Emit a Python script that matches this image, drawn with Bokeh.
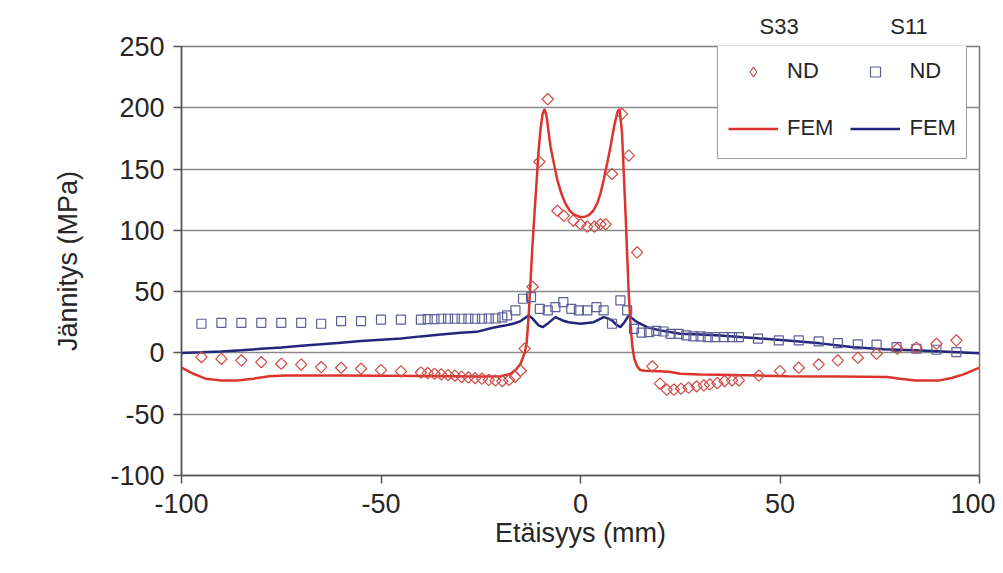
import math
from bokeh.plotting import figure
from bokeh.models import FixedTicker, Legend, LegendItem, Title
from bokeh.embed import file_html
from bokeh.resources import INLINE

# ---- axis ticks ----
x_ticks = [-100, -50, 0, 50, 100]
x_tick_labels = ["-100", "-50", "0", "50", "100"]
y_ticks = [-100, -50, 0, 50, 100, 150, 200, 250]
y_tick_labels = ["-100", "-50", "0", "50", "100", "150", "200", "250"]

# ---- legend headers ----
header_left = "S33"
header_right = "S11"

# ---- S33 measured (ND) ----
s33_nd_x = [-95, -90, -85, -80, -75, -70, -65, -60, -55, -50, -45, -40,
            -38.3, -36.6, -34.9, -33.2, -31.5, -29.8, -28.1, -26.4, -24.7, -23.0,
            -21.3, -19.6, -17.9, -16.4, -15.0, -14.0, -12.0, -10.3, -8.2, -5.8,
            -4.2, -1.8, 0.0, 1.7, 3.5, 5.0, 6.3, 7.9, 10.4, 12.1, 14.2, 18.0,
            19.9, 21.6, 23.4, 25.2, 27.1, 29.1, 30.9, 32.4, 34.3, 36.1, 38.0,
            39.7, 44.7, 50.0, 54.7, 59.7, 64.5, 69.5, 74.2, 79.4, 84.2, 89.2, 94.2]
s33_nd_y = [-3.4, -4.8, -6.1, -7.5, -8.8, -9.5, -11.6, -12.1, -12.9, -14.0, -15.0, -16.0,
            -16.5, -17.0, -17.5, -18.0, -18.5, -19.5, -20.0, -20.5, -21.0, -22.0,
            -22.5, -23.0, -22.0, -19.5, -14.5, 3.5, 54, 156, 207, 116,
            112, 108, 105, 103, 103, 105, 105, 146, 195, 161, 82, -11,
            -25, -30, -30, -29.2, -28.4, -27.3, -26.5, -25.7, -24.6, -23.0, -22.4,
            -22.4, -18.4, -14.8, -12.1, -9.4, -6.1, -3.9, -0.7, 3.4, 4.2, 7.5, 10.2]

# ---- S11 measured (ND) ----
s11_nd_x = [-95, -90, -85, -80, -75, -70, -65, -60, -55, -50, -45, -40,
            -38.3, -36.6, -34.9, -33.2, -31.5, -29.8, -28.1, -26.4, -24.7, -23.0,
            -21.3, -19.6, -18.4, -16.3, -14.4, -12.4, -10.2, -8.2, -6.3, -4.3,
            -2.3, -0.4, 1.7, 4.0, 5.8, 7.9, 10.0, 11.7, 13.4, 15.3, 17.2, 19.0,
            20.8, 22.6, 24.6, 26.5, 28.3, 30.1, 31.9, 33.8, 35.9, 38.0, 39.7,
            44.5, 49.7, 54.7, 59.7, 64.5, 69.5, 74.2, 79.2, 84.2, 89.2, 94.2]
s11_nd_y = [23.8, 24.6, 24.6, 24.6, 24.6, 24.6, 23.8, 26.0, 26.0, 27.1, 27.1, 27.1,
            27.5, 27.5, 27.9, 27.9, 27.9, 27.9, 27.9, 27.9, 27.9, 28.1,
            28.1, 29.0, 30.6, 34.7, 44.2, 45.5, 36.0, 34.7, 37.4, 41.4,
            36.0, 34.7, 34.7, 37.4, 34.7, 23.8, 42.8, 34.7, 19.7, 16.5, 17.0, 18.0,
            17.5, 15.6, 15.6, 14.3, 13.5, 13.5, 12.9, 12.9, 12.9, 12.9, 12.9,
            11.6, 10.2, 10.2, 9.4, 8.0, 6.9, 6.7, 4.7, 3.4, 2.6, 0.7]

# ---- S33 FEM ----
s33_fem_x = [-100, -97, -94, -90, -86, -82, -78, -74, -60, -40, -25, -20, -17.5, -16,
             -15, -14, -13.5, -13, -12.5, -12, -11.5, -11, -10.5, -10, -9.5, -9.0,
             -8.5, -7.5, -6.5, -5.8, -4.8, -3.8, -2.7, -1.7, 0, 1, 2.1, 3.2, 4.2,
             5, 5.8, 6.7, 7.5, 8.5, 9.3, 9.8, 10.4, 10.8, 11.3, 11.7, 12.1, 12.5,
             13, 13.5, 14.2, 15, 16, 20, 22.6, 25, 30, 35, 45, 52, 65, 77, 80, 84,
             90, 93, 96, 100]
s33_fem_y = [-12, -17, -21, -22.5, -22.5, -21, -19, -18.5, -18.5, -18.8, -19.2, -19, -17, -13,
             -8.6, 0, 8, 30, 60, 90, 115, 140, 165, 183, 195, 199,
             193, 168, 152, 141, 130, 122, 116, 113, 110.8, 111, 112.5, 116, 122,
             130, 141, 155, 168, 186, 197, 199, 180, 150, 113, 80, 48, 25,
             5, -5, -11, -14, -14.5, -15, -15.6, -17, -17.5, -17.8, -18.5, -19, -19.2, -19.7, -21, -22.4,
             -22.4, -20.5, -17.5, -12]

# ---- S11 FEM ----
s11_fem_x = [-100, -95, -90, -85, -80, -75, -70, -65, -60, -55, -50, -45, -40, -35, -30,
             -26, -22, -19, -16.7, -15, -13, -12, -10.5, -9.5, -8, -6.3, -4.5, -3, 0,
             3.3, 5.8, 7, 7.9, 9, 10, 11, 12.1, 13, 14.2, 16.7, 20, 25, 30, 35, 45,
             51.8, 60, 68.5, 76, 85.2, 92, 100]
s11_fem_y = [0, 0.5, 1.2, 2.2, 3.4, 4.5, 5.8, 7.1, 8.4, 9.7, 10.8, 11.8, 13.5, 15, 16.5,
             17.2, 20.5, 22.3, 24, 26, 30.5, 28, 22.5, 21, 24.5, 29.2, 26.5, 25, 23.8,
             25.1, 29.2, 28, 26.5, 23, 21, 25, 30.6, 28, 25.1, 21, 18.4, 15.6, 15, 14.3, 11.8,
             10.2, 7.8, 4.7, 3, 2, 1, -0.2]

FONT = "Liberation Sans"
TXT = "#262626"
RED_LINE = "#dc342c"
RED_PT = "#cf4a44"
BLUE_LINE = "#23267a"
BLUE_PT = "#5b5f98"

p = figure(width=995, height=565, x_range=(-100, 100), y_range=(-100, 250),
           output_backend="svg", toolbar_location=None,
           min_border_left=181, min_border_right=16, min_border_top=46, min_border_bottom=90,
           x_axis_label="Etäisyys (mm)", y_axis_label="Jännitys (MPa)")
p.background_fill_color = "white"
p.border_fill_color = "white"
p.outline_line_color = "#7a7a7a"
p.outline_line_width = 1.5

p.xaxis.ticker = FixedTicker(ticks=x_ticks)
p.yaxis.ticker = FixedTicker(ticks=y_ticks)
p.xaxis.major_label_overrides = dict(zip(x_ticks, x_tick_labels))
p.yaxis.major_label_overrides = dict(zip(y_ticks, y_tick_labels))

for ax in (p.xaxis, p.yaxis):
    ax.axis_line_color = "#555555"
    ax.axis_line_width = 1.5
    ax.major_tick_line_color = "#555555"
    ax.major_tick_line_width = 1.5
    ax.major_tick_in = 0
    ax.major_tick_out = 8
    ax.minor_tick_line_color = None
    ax.major_label_text_font = FONT
    ax.major_label_text_font_size = "27px"
    ax.major_label_text_color = TXT
    ax.axis_label_text_font = FONT
    ax.axis_label_text_font_size = "27px"
    ax.axis_label_text_font_style = "normal"
    ax.axis_label_text_color = TXT

p.xaxis.major_label_standoff = 10
p.xaxis.axis_label_standoff = 2
p.yaxis.major_label_standoff = 9
p.yaxis.axis_label_standoff = 24

p.xgrid.grid_line_color = None
p.ygrid.grid_line_color = "#8a8a8a"
p.ygrid.grid_line_width = 1.5

r_s11_fem = p.line(s11_fem_x, s11_fem_y, line_color=BLUE_LINE, line_width=2.5)
r_s33_fem = p.line(s33_fem_x, s33_fem_y, line_color=RED_LINE, line_width=2.5)
r_s11_nd = p.scatter(s11_nd_x, s11_nd_y, marker="square", size=9,
                     line_color=BLUE_PT, fill_color=None, line_width=1.2)
r_s33_nd = p.scatter(s33_nd_x, s33_nd_y, marker="square", angle=math.pi / 4, size=8,
                     line_color=RED_PT, fill_color=None, line_width=1.2)
# hidden renderer used only to draw a diamond key in the legend
r_s33_key = p.scatter(s33_nd_x, s33_nd_y, marker="diamond", size=10,
                      line_color=RED_PT, fill_color=None, line_width=1.2, visible=False)

legend = Legend(items=[
    LegendItem(label="ND", renderers=[r_s33_key]),
    LegendItem(label="ND", renderers=[r_s11_nd]),
    LegendItem(label="FEM", renderers=[r_s33_fem]),
    LegendItem(label="FEM", renderers=[r_s11_fem]),
], orientation="horizontal", ncols=2, location=(536, 316))
legend.label_text_font = FONT
legend.label_text_font_size = "22px"
legend.label_text_color = TXT
legend.border_line_color = "#404040"
legend.border_line_width = 1.5
legend.background_fill_color = "white"
legend.background_fill_alpha = 1.0
legend.inactive_fill_alpha = 0.0
legend.glyph_width = 50
legend.glyph_height = 25
legend.label_height = 40
legend.label_standoff = 9
legend.spacing = 17
legend.padding = 10
legend.margin = 0
legend.click_policy = "none"
p.add_layout(legend, "center")

nbsp = "\u00a0"
hdr = Title(text=header_left + nbsp * 15 + header_right, align="left", offset=578,
            text_font=FONT, text_font_size="22px", text_font_style="normal",
            text_color=TXT, standoff=16)
p.add_layout(hdr, "above")

open("out.html", "w").write(file_html(p, INLINE))
